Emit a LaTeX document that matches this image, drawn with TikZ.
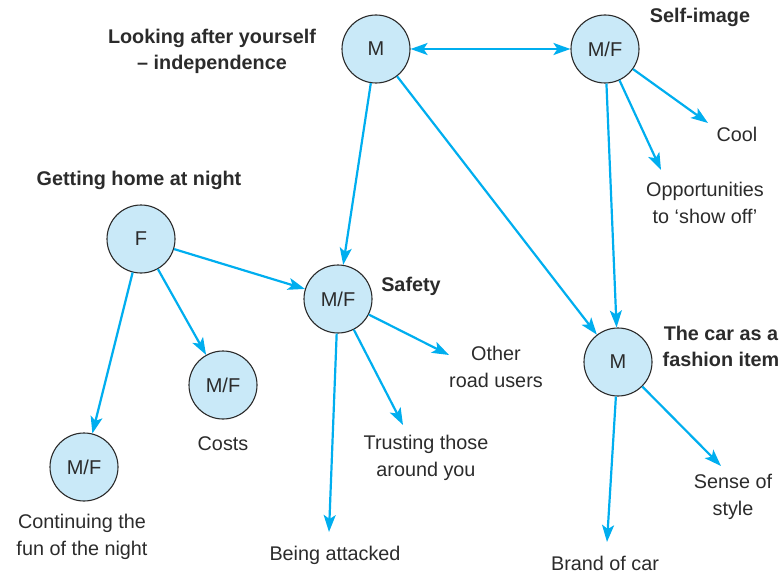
\documentclass[tikz,border=0pt]{standalone}
\usepackage{fontspec}
\setmainfont{Liberation Sans}
\usetikzlibrary{arrows.meta}

\definecolor{arrowblue}{HTML}{00AEEF}
\definecolor{bubble}{HTML}{C9E9F8}
\definecolor{ink}{HTML}{2B2B2B}

\begin{document}
\begin{tikzpicture}[x=1pt,y=-1pt,
    topic/.style={circle,draw=ink,line width=1.1pt,fill=bubble,minimum size=68pt,inner sep=0pt,
      text=ink,font=\fontsize{20}{26}\selectfont},
    head/.style={align=center,text=ink,font=\fontsize{19.8}{26}\selectfont\bfseries},
    label/.style={align=center,text=ink,font=\fontsize{19.8}{27}\selectfont},
    link/.style={draw=arrowblue,line width=2.2pt,-{Stealth[length=17pt,width=12pt,inset=4pt]}}]
  \useasboundingbox (0,0) rectangle (783,575);

  % circles
  \node[topic] (indep) at (376,49) {M};
  \node[topic] (self) at (605,49) {M/F};
  \node[topic] (home) at (141,239) {F};
  \node[topic] (safety) at (338,299) {M/F};
  \node[topic] (costs) at (223,385) {M/F};
  \node[topic] (fun) at (84,467) {M/F};
  \node[topic] (car) at (618,362) {M};

  % headings
  \node[head] (indeph) at (212,51) {Looking after yourself\\– independence};
  \node[head] (selfh) at (700,17) {Self-image};
  \node[head] (homeh) at (139,180) {Getting home at night};
  \node[head] (safetyh) at (411,286) {Safety};
  \node[head] (carh) at (721,346) {The car as a\\fashion item};

  % leaf texts
  \node[label] (cool) at (737,134) {Cool};
  \node[label] (show) at (705,203) {Opportunities\\to ‘show off’};
  \node[label] (other) at (496,367) {Other\\road users};
  \node[label] (trust) at (426,458) {Trusting those\\around you};
  \node[label] (attack) at (335,555) {Being attacked};
  \node[label] (costl) at (223,444) {Costs};
  \node[label] (funl) at (82,537) {Continuing the\\fun of the night};
  \node[label] (style) at (733,497) {Sense of\\style};
  \node[label] (brand) at (605,563) {Brand of car};

  % arrow ends
  \coordinate (coolt) at (708,123);
  \coordinate (showt) at (661,170);
  \coordinate (othert) at (449,355);
  \coordinate (trustt) at (403,425);
  \coordinate (attackt) at (329,532);
  \coordinate (stylet) at (721,466);
  \coordinate (brandt) at (607,542);

  % links
  \draw[link,{Stealth[length=17pt,width=12pt,inset=4pt]}-{Stealth[length=17pt,width=12pt,inset=4pt]}] (indep) -- (self);
  \draw[link] (indep) -- (safety);
  \draw[link] (indep) -- (car);
  \draw[link] (self) -- (coolt);
  \draw[link] (self) -- (showt);
  \draw[link] (self) -- (car);
  \draw[link] (home) -- (safety);
  \draw[link] (home) -- (costs);
  \draw[link] (home) -- (fun);
  \draw[link] (safety) -- (othert);
  \draw[link] (safety) -- (trustt);
  \draw[link] (safety) -- (attackt);
  \draw[link] (car) -- (stylet);
  \draw[link] (car) -- (brandt);
\end{tikzpicture}
\end{document}
